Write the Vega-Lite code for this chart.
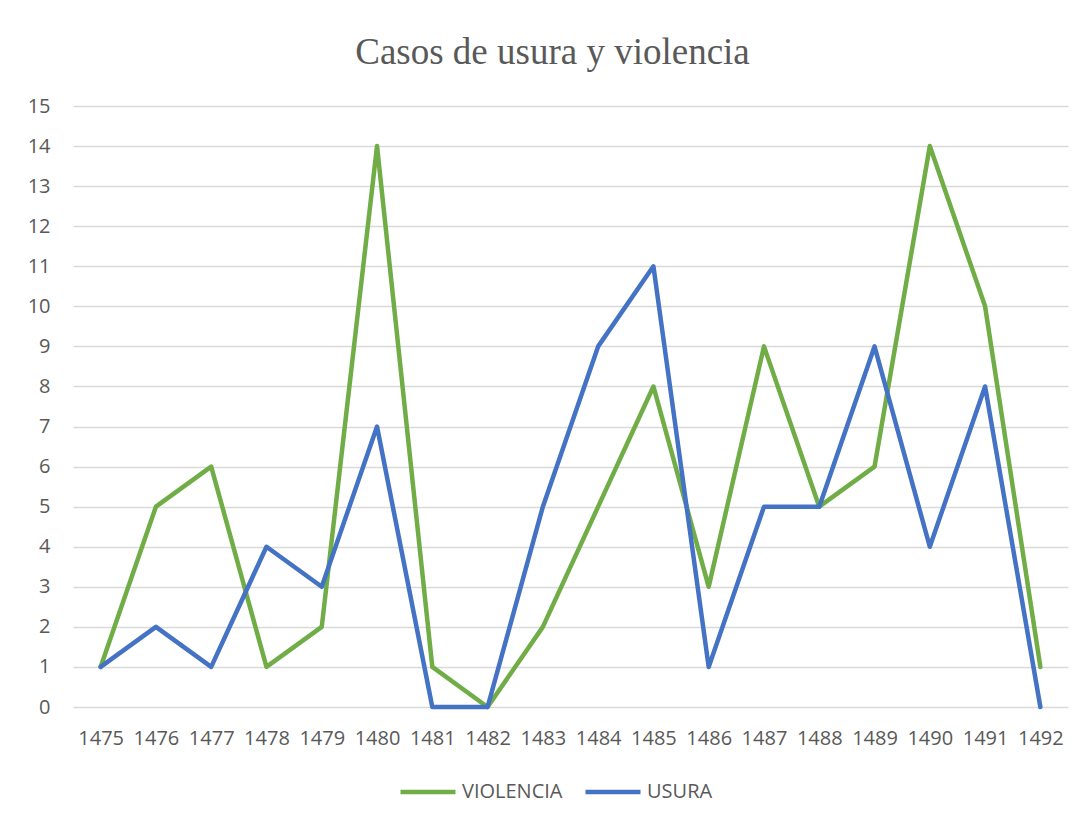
{
  "$schema": "https://vega.github.io/schema/vega-lite/v6.json",
  "autosize": "none",
  "width": 995,
  "height": 601,
  "padding": {"left": 73, "top": 106, "right": 15, "bottom": 116},
  "background": "white",
  "title": {
    "text": "Casos de usura y violencia",
    "font": "Liberation Serif",
    "fontSize": 37,
    "fontWeight": "normal",
    "color": "#595959",
    "anchor": "middle",
    "frame": "group",
    "dx": -18,
    "offset": 24
  },
  "config": {
    "view": {"stroke": null},
    "axis": {
      "labelFont": "Open Sans",
      "labelFontSize": 20,
      "labelColor": "#595959",
      "domain": false,
      "ticks": false,
      "title": null
    },
    "legend": {
      "labelFont": "Open Sans",
      "labelFontSize": 20,
      "labelColor": "#595959"
    }
  },
  "data": {
    "values": [
      {"year": "1475", "serie": "VIOLENCIA", "value": 1},
      {"year": "1476", "serie": "VIOLENCIA", "value": 5},
      {"year": "1477", "serie": "VIOLENCIA", "value": 6},
      {"year": "1478", "serie": "VIOLENCIA", "value": 1},
      {"year": "1479", "serie": "VIOLENCIA", "value": 2},
      {"year": "1480", "serie": "VIOLENCIA", "value": 14},
      {"year": "1481", "serie": "VIOLENCIA", "value": 1},
      {"year": "1482", "serie": "VIOLENCIA", "value": 0},
      {"year": "1483", "serie": "VIOLENCIA", "value": 2},
      {"year": "1484", "serie": "VIOLENCIA", "value": 5},
      {"year": "1485", "serie": "VIOLENCIA", "value": 8},
      {"year": "1486", "serie": "VIOLENCIA", "value": 3},
      {"year": "1487", "serie": "VIOLENCIA", "value": 9},
      {"year": "1488", "serie": "VIOLENCIA", "value": 5},
      {"year": "1489", "serie": "VIOLENCIA", "value": 6},
      {"year": "1490", "serie": "VIOLENCIA", "value": 14},
      {"year": "1491", "serie": "VIOLENCIA", "value": 10},
      {"year": "1492", "serie": "VIOLENCIA", "value": 1},
      {"year": "1475", "serie": "USURA", "value": 1},
      {"year": "1476", "serie": "USURA", "value": 2},
      {"year": "1477", "serie": "USURA", "value": 1},
      {"year": "1478", "serie": "USURA", "value": 4},
      {"year": "1479", "serie": "USURA", "value": 3},
      {"year": "1480", "serie": "USURA", "value": 7},
      {"year": "1481", "serie": "USURA", "value": 0},
      {"year": "1482", "serie": "USURA", "value": 0},
      {"year": "1483", "serie": "USURA", "value": 5},
      {"year": "1484", "serie": "USURA", "value": 9},
      {"year": "1485", "serie": "USURA", "value": 11},
      {"year": "1486", "serie": "USURA", "value": 1},
      {"year": "1487", "serie": "USURA", "value": 5},
      {"year": "1488", "serie": "USURA", "value": 5},
      {"year": "1489", "serie": "USURA", "value": 9},
      {"year": "1490", "serie": "USURA", "value": 4},
      {"year": "1491", "serie": "USURA", "value": 8},
      {"year": "1492", "serie": "USURA", "value": 0}
    ]
  },
  "mark": {"type": "line", "strokeWidth": 4.5, "strokeCap": "round", "strokeJoin": "round"},
  "encoding": {
    "x": {
      "field": "year",
      "type": "ordinal",
      "scale": {"type": "point", "padding": 0.5},
      "axis": {"labelAngle": 0, "labelPadding": 21, "grid": false}
    },
    "y": {
      "field": "value",
      "type": "quantitative",
      "scale": {"domain": [0, 15], "nice": false},
      "axis": {
        "values": [0,1,2,3,4,5,6,7,8,9,10,11,12,13,14,15],
        "labelPadding": 23,
        "grid": true,
        "gridColor": "#d9d9d9",
        "gridWidth": 1.5
      }
    },
    "color": {
      "field": "serie",
      "type": "nominal",
      "sort": ["VIOLENCIA", "USURA"],
      "scale": {"domain": ["VIOLENCIA", "USURA"], "range": ["#70ad47", "#4472c4"]},
      "legend": {
        "title": null,
        "orient": "none",
        "direction": "horizontal",
        "legendX": 325,
        "legendY": 656,
        "symbolType": "stroke",
        "symbolSize": 3025,
        "symbolStrokeWidth": 4.5,
        "labelOffset": 4,
        "columnPadding": 13
      }
    }
  }
}
